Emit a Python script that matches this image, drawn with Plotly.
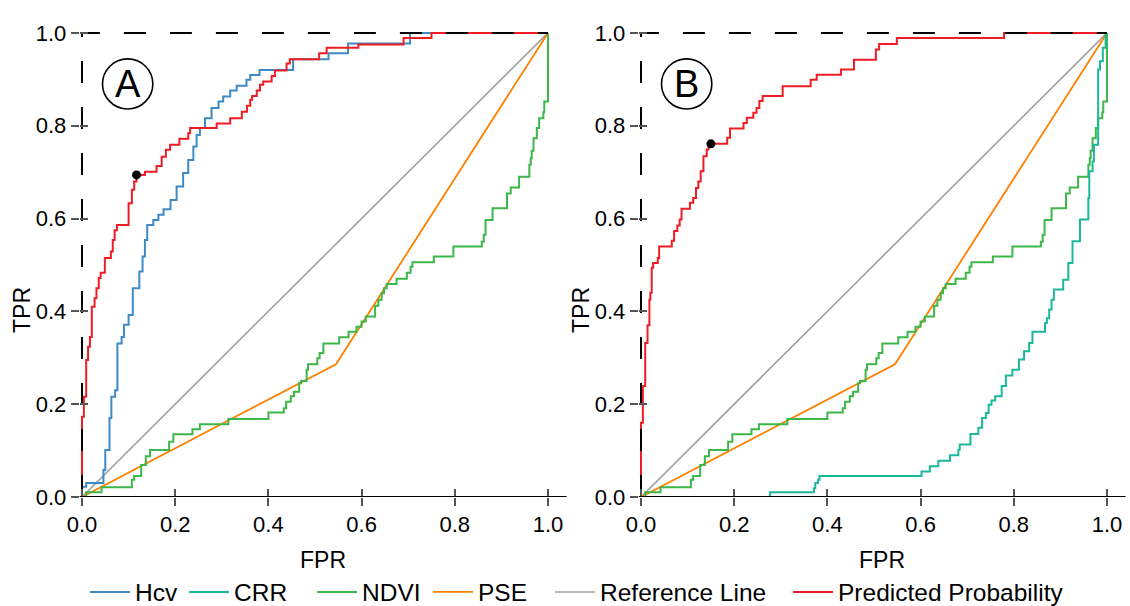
import plotly.graph_objects as go

# ---------------- data ----------------
# Panel A: Predicted Probability ROC (step corners: fpr, tpr)
pred_a_fpr = [0, 0, 0.004, 0.009, 0.013, 0.017, 0.021, 0.027, 0.031, 0.036, 0.04, 0.049, 0.062, 0.066,
              0.07, 0.075, 0.1, 0.107, 0.112, 0.117, 0.135, 0.16, 0.171, 0.18, 0.189, 0.209, 0.228,
              0.232, 0.289, 0.318, 0.343, 0.354, 0.361, 0.365, 0.375, 0.382, 0.389, 0.407, 0.414,
              0.439, 0.446, 0.509, 0.525, 0.593, 0.69, 0.75, 1.0]
pred_a_tpr = [0, 0.173, 0.216, 0.295, 0.324, 0.345, 0.41, 0.428, 0.45, 0.472, 0.483, 0.515, 0.529, 0.554,
              0.575, 0.586, 0.633, 0.662, 0.68, 0.694, 0.701, 0.713, 0.733, 0.748, 0.759, 0.772, 0.784,
              0.795, 0.805, 0.816, 0.83, 0.843, 0.856, 0.864, 0.876, 0.888, 0.895, 0.907, 0.919,
              0.934, 0.943, 0.956, 0.968, 0.975, 0.989, 1.0, 1.0]

# Panel A: Hcv ROC
hcv_fpr = [0, 0, 0.009, 0.046, 0.05, 0.059, 0.063, 0.071, 0.076, 0.085, 0.09, 0.1, 0.109, 0.123, 0.13,
           0.135, 0.14, 0.153, 0.164, 0.175, 0.19, 0.203, 0.217, 0.228, 0.239, 0.246, 0.253, 0.264,
           0.278, 0.293, 0.303, 0.318, 0.332, 0.353, 0.361, 0.381, 0.453, 0.529, 0.571, 0.704, 1.0]
hcv_tpr = [0, 0.022, 0.03, 0.058, 0.101, 0.17, 0.216, 0.23, 0.331, 0.345, 0.371, 0.392, 0.45, 0.486, 0.518,
           0.554, 0.586, 0.597, 0.608, 0.62, 0.64, 0.669, 0.698, 0.726, 0.755, 0.78, 0.795, 0.816,
           0.838, 0.852, 0.863, 0.876, 0.886, 0.899, 0.909, 0.92, 0.943, 0.956, 0.977, 1.0, 1.0]

# Panel B: Predicted Probability ROC
pred_b_fpr = [0, 0, 0.004, 0.009, 0.014, 0.018, 0.02, 0.023, 0.026, 0.036, 0.039, 0.066, 0.071, 0.078,
              0.083, 0.087, 0.105, 0.112, 0.118, 0.123, 0.128, 0.134, 0.141, 0.145, 0.15, 0.185, 0.191,
              0.22, 0.227, 0.241, 0.248, 0.254, 0.261, 0.304, 0.364, 0.377, 0.429, 0.457, 0.504, 0.511,
              0.549, 0.779, 1.0]
pred_b_tpr = [0, 0.16, 0.239, 0.332, 0.37, 0.425, 0.44, 0.494, 0.504, 0.515, 0.54, 0.552, 0.573, 0.585,
              0.598, 0.621, 0.634, 0.644, 0.666, 0.68, 0.702, 0.734, 0.749, 0.757, 0.761, 0.774, 0.794,
              0.806, 0.817, 0.828, 0.838, 0.853, 0.864, 0.885, 0.899, 0.91, 0.921, 0.942, 0.964, 0.976,
              0.989, 1.0, 1.0]

# Panel B: CRR ROC
crr_fpr = [0, 0.277, 0.371, 0.374, 0.38, 0.383, 0.602, 0.62, 0.638, 0.663, 0.681, 0.684, 0.707, 0.724,
           0.732, 0.74, 0.746, 0.752, 0.76, 0.774, 0.783, 0.797, 0.811, 0.822, 0.833, 0.84, 0.867,
           0.871, 0.876, 0.881, 0.886, 0.906, 0.917, 0.926, 0.942, 0.96, 0.962, 0.969, 0.972, 0.981,
           0.985, 0.991, 0.997, 1.0]
crr_tpr = [0, 0.01, 0.019, 0.03, 0.037, 0.045, 0.055, 0.066, 0.078, 0.09, 0.102, 0.113, 0.136, 0.149,
           0.17, 0.181, 0.199, 0.208, 0.217, 0.239, 0.262, 0.274, 0.296, 0.314, 0.332, 0.356, 0.375,
           0.385, 0.404, 0.425, 0.447, 0.468, 0.504, 0.551, 0.598, 0.644, 0.702, 0.723, 0.759, 0.921,
           0.939, 0.968, 1.0, 1.0]

# Both panels: NDVI ROC
ndvi_fpr = [0, 0.009, 0.042, 0.107, 0.112, 0.127, 0.137, 0.146, 0.187, 0.196, 0.237, 0.253, 0.314, 0.4,
            0.433, 0.438, 0.448, 0.455, 0.466, 0.47, 0.482, 0.485, 0.505, 0.51, 0.518, 0.552, 0.572,
            0.589, 0.6, 0.609, 0.629, 0.636, 0.643, 0.648, 0.654, 0.675, 0.697, 0.705, 0.709, 0.755,
            0.797, 0.858, 0.862, 0.866, 0.881, 0.912, 0.92, 0.938, 0.96, 0.963, 0.965, 0.969, 0.976,
            0.981, 0.99, 0.992, 1.0]
ndvi_tpr = [0, 0.01, 0.021, 0.037, 0.045, 0.069, 0.088, 0.101, 0.119, 0.135, 0.146, 0.157, 0.168, 0.182,
            0.191, 0.205, 0.217, 0.227, 0.245, 0.25, 0.274, 0.286, 0.299, 0.31, 0.331, 0.344, 0.356,
            0.367, 0.378, 0.389, 0.412, 0.425, 0.439, 0.45, 0.459, 0.47, 0.483, 0.496, 0.506, 0.518,
            0.54, 0.55, 0.565, 0.597, 0.622, 0.654, 0.667, 0.69, 0.716, 0.73, 0.746, 0.773, 0.795,
            0.816, 0.829, 0.852, 1.0]

# Both panels: PSE ROC
pse_fpr = [0, 0.545, 1.0]
pse_tpr = [0, 0.286, 1.0]

# Reference (chance) line and perfect-classifier line
ref_fpr = [0, 1]
ref_tpr = [0, 1]
perfect_fpr = [0, 0, 1]
perfect_tpr = [0, 1, 1]

# Optimal cut-off points
cut_a = (0.117, 0.694)
cut_b = (0.15, 0.761)

panel_labels = ["A", "B"]
tick_vals = [0.0, 0.2, 0.4, 0.6, 0.8, 1.0]
tick_text = ["0.0", "0.2", "0.4", "0.6", "0.8", "1.0"]
legend_names = ["Hcv", "CRR", "NDVI", "PSE", "Reference Line", "Predicted Probability"]

# ---------------- styling ----------------
FONT = "Liberation Sans, Arial, sans-serif"
C_HCV = "#3d8ac4"
C_CRR = "#1bb89c"
C_NDVI = "#3db74a"
C_PSE = "#ff8000"
C_REF = "#a0a0a0"
C_PRED = "#ee1d25"
W, H = 1130, 606

# one legend per entry so each entry can sit where it does in the original
legend_x_px = [90, 189, 317, 433, 555, 793]
LEG_ID = {}
for i, nm in enumerate(legend_names):
    LEG_ID[nm] = "legend" if i == 0 else "legend%d" % (i + 1)

fig = go.Figure()
shown = set()


def add_line(x, y, name, color, xa, ya, width=2.0, shape="hv"):
    fig.add_trace(go.Scatter(
        x=x, y=y, mode="lines", name=name, legendgroup=name, legend=LEG_ID[name],
        showlegend=name not in shown,
        line=dict(color=color, width=width, shape=shape),
        xaxis=xa, yaxis=ya, hoverinfo="skip"))
    shown.add(name)


panels = [
    ("x", "y", pred_a_fpr, pred_a_tpr, ("Hcv", hcv_fpr, hcv_tpr, C_HCV), cut_a),
    ("x2", "y2", pred_b_fpr, pred_b_tpr, ("CRR", crr_fpr, crr_tpr, C_CRR), cut_b),
]

for xa, ya, pfpr, ptpr, extra, cut in panels:
    add_line(ref_fpr, ref_tpr, "Reference Line", C_REF, xa, ya, width=1.6, shape="linear")
    add_line(pse_fpr, pse_tpr, "PSE", C_PSE, xa, ya, width=1.8, shape="linear")
    add_line(ndvi_fpr, ndvi_tpr, "NDVI", C_NDVI, xa, ya)
    add_line(extra[1], extra[2], extra[0], extra[3], xa, ya)
    add_line(pfpr, ptpr, "Predicted Probability", C_PRED, xa, ya)
    fig.add_trace(go.Scatter(x=perfect_fpr, y=perfect_tpr, mode="lines", showlegend=False,
                             line=dict(color="black", width=2, dash="22px,24px"),
                             xaxis=xa, yaxis=ya, hoverinfo="skip"))
    fig.add_trace(go.Scatter(x=[cut[0]], y=[cut[1]], mode="markers", showlegend=False,
                             marker=dict(color="black", size=9), cliponaxis=False,
                             xaxis=xa, yaxis=ya, hoverinfo="skip"))

# dummy traces for overlay (inside-tick) axes
for xa, ya in [("x3", "y3"), ("x4", "y4")]:
    fig.add_trace(go.Scatter(x=[0.5], y=[0.5], mode="markers", showlegend=False,
                             marker=dict(opacity=0), xaxis=xa, yaxis=ya, hoverinfo="skip"))

XR = [-0.005, 1.04]
YR = [0, 1.045]
UNIT = 466.0
x0_px = [82, 641]
dom_x = [[(p + XR[0] * UNIT) / W, (p + XR[1] * UNIT) / W] for p in x0_px]
dom_y = [1 - 497 / H, 1 - 12 / H]

tickfont = dict(family=FONT, size=22, color="black")
common_x = dict(range=XR, tickvals=tick_vals, ticktext=tick_text, showgrid=False, zeroline=False,
                automargin=False)
common_y = dict(range=YR, tickvals=tick_vals, ticktext=tick_text, showgrid=False, zeroline=False,
                automargin=False)

layout = dict(
    template="none",
    width=W, height=H, margin=dict(l=0, r=0, t=0, b=0, pad=0, autoexpand=False),
    plot_bgcolor="white", paper_bgcolor="white",
    font=dict(family=FONT, size=22, color="black"),
    showlegend=True,
)
for i, nm in enumerate(legend_names):
    layout[LEG_ID[nm]] = dict(orientation="h", x=(legend_x_px[i] - 5) / W, xanchor="left",
                              y=1 - 592 / H, yanchor="middle",
                              font=dict(family=FONT, size=24.5, color="black"), itemwidth=40,
                              bgcolor="rgba(0,0,0,0)", borderwidth=0)

for i, (xk, yk, ox, oy) in enumerate([("xaxis", "yaxis", "xaxis3", "yaxis3"),
                                       ("xaxis2", "yaxis2", "xaxis4", "yaxis4")]):
    xref = "x" if i == 0 else "x2"
    yref = "y" if i == 0 else "y2"
    layout[xk] = dict(common_x, domain=dom_x[i], anchor=yref, showline=False,
                      ticks="outside", ticklen=8, tickwidth=1.5, tickcolor="#555",
                      tickfont=tickfont, layer="above traces")
    layout[yk] = dict(common_y, domain=dom_y, anchor=xref, showline=False, ticks="outside",
                      ticklen=8, tickwidth=1.5, tickcolor="#555", tickfont=tickfont)
    layout[ox] = dict(common_x, overlaying=xref, anchor=("y3" if i == 0 else "y4"), showline=False,
                      ticks="inside", ticklen=8, tickwidth=1.5, tickcolor="#555",
                      showticklabels=False)
    layout[oy] = dict(common_y, overlaying=yref, anchor=("x3" if i == 0 else "x4"), showline=False,
                      ticks="inside", ticklen=8, tickwidth=1.5, tickcolor="#555",
                      showticklabels=False)

fig.update_layout(**layout)

# axis titles, x-axis baseline and panel labels
annotations = []
shapes = []
for i in range(2):
    xd = dom_x[i]
    xr = "x" if i == 0 else "x2"
    yr = "y" if i == 0 else "y2"
    # black baseline at TPR = 0, drawn above the curves
    shapes.append(dict(type="line", xref=xr + " domain", yref=yr, x0=0, x1=1, y0=0, y1=0,
                       line=dict(color="black", width=2.2), layer="above"))
    annotations.append(dict(text="FPR", x=(xd[0] + xd[1]) / 2, y=1 - 560 / H, xref="paper",
                            yref="paper", showarrow=False, font=dict(family=FONT, size=23),
                            xanchor="center", yanchor="middle"))
    annotations.append(dict(text="TPR", x=(22 if i == 0 else 581) / W, y=1 - 310 / H,
                            xref="paper", yref="paper", showarrow=False, textangle=-90,
                            font=dict(family=FONT, size=23), xanchor="center", yanchor="middle"))
    cx, cy, r = 0.098, 0.89, 0.054
    shapes.append(dict(type="circle", xref=xr, yref=yr, x0=cx - r, x1=cx + r, y0=cy - r, y1=cy + r,
                       line=dict(color="black", width=1.6)))
    annotations.append(dict(text=panel_labels[i], x=cx, y=cy, xref=xr, yref=yr, showarrow=False,
                            font=dict(family=FONT, size=38), xanchor="center", yanchor="middle"))

fig.update_layout(annotations=annotations, shapes=shapes)
fig.write_html("out.html", config={"displayModeBar": False},
               post_script="document.body.style.margin='0';document.body.style.padding='0';"
                           "document.body.style.overflow='hidden';")
